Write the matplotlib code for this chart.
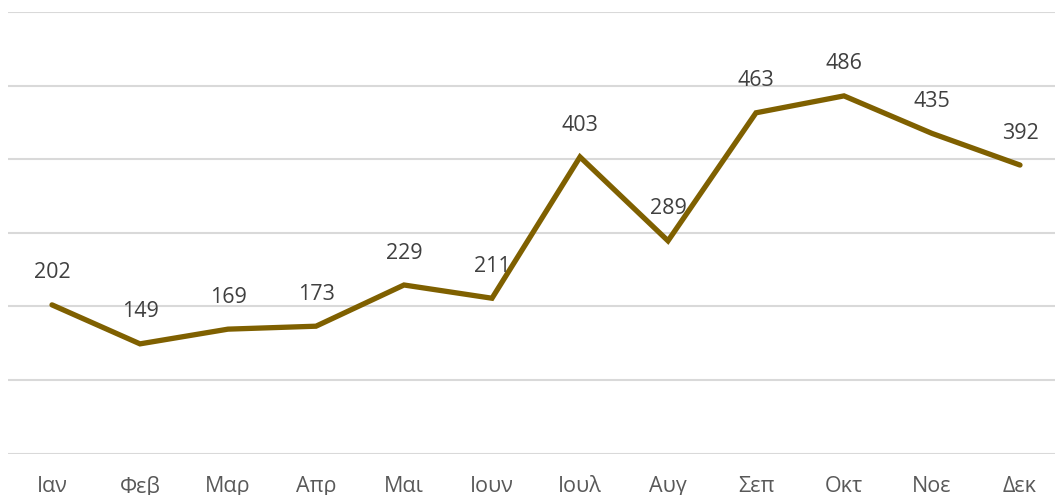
import matplotlib.pyplot as plt

# Δεδομένα
mines = ["Ιαν", "Φεβ", "Μαρ", "Απρ", "Μαι", "Ιουν", "Ιουλ", "Αυγ", "Σεπ", "Οκτ", "Νοε", "Δεκ"]
times = [202, 149, 169, 173, 229, 211, 403, 289, 463, 486, 435, 392]
grammes = [0, 100, 200, 300, 400, 500, 600]

plt.rcParams['font.family'] = ['Open Sans', 'DejaVu Sans']

fig = plt.figure(figsize=(10.55, 4.95), dpi=100)
ax = fig.add_axes([8 / 1055, 41.5 / 495, 1056 / 1055, 441.5 / 495])

x = list(range(len(mines)))
ax.plot(x, times, color="#7F6000", linewidth=3.8, solid_joinstyle="miter", solid_capstyle="round", zorder=3)

for xi, v in zip(x, times):
    ax.annotate(str(v), (xi, v), xytext=(0, 23), textcoords="offset points",
                ha="center", va="center", fontsize=15.5, color="#404040")

ax.set_xlim(-0.5, 11.5)
ax.set_ylim(0, 600)
ax.set_yticks(grammes)
ax.set_yticklabels([])
ax.grid(axis="y", color="#D9D9D9", linewidth=1.5)
ax.set_axisbelow(True)
ax.tick_params(axis="y", length=0)
ax.tick_params(axis="x", length=0, pad=16, labelsize=15.5, labelcolor="#595959")
ax.set_xticks(x)
ax.set_xticklabels(mines)
for s in ax.spines.values():
    s.set_visible(False)

fig.savefig("out.png", dpi=100)
